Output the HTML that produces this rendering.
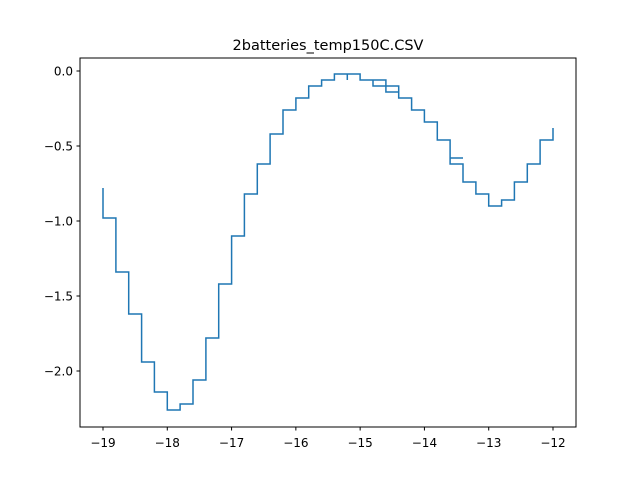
<!DOCTYPE html>
<html><head><meta charset="utf-8"><style>body{margin:0;background:#fff}svg{display:block;font-family:"DejaVu Sans","Liberation Sans",sans-serif}</style></head>
<body>
<svg id="c" width="640" height="480" xmlns="http://www.w3.org/2000/svg">
<rect width="640" height="480" fill="#fff"/>
<text x="328" y="50" text-anchor="middle" font-size="14.5">2batteries_temp150C.CSV</text>
<g id="plot"></g>
<rect x="80" y="58" width="496" height="369" fill="none" stroke="#000" stroke-width="1"/>
</svg>
<script>
const xs=[-19,-19,-18.8,-18.8,-18.6,-18.6,-18.4,-18.4,-18.2,-18.2,-18.0,-18.0,-17.8,-17.8,-17.6,-17.6,-17.4,-17.4,-17.2,-17.2,-17.0,-17.0,-16.8,-16.8,-16.6,-16.6,-16.4,-16.4,-16.2,-16.2,-16.0,-16.0,-15.8,-15.8,-15.6,-15.6,-15.4,-15.4,-15.2,-15.2,-15.2,-15.0,-15.0,-14.6,-14.6,-14.4,-14.4,-14.8,-14.8,-14.8,-14.4,-14.4,-14.2,-14.2,-14.0,-14.0,-13.8,-13.8,-13.6,-13.6,-13.4,-13.6,-13.6,-13.4,-13.4,-13.2,-13.2,-13.0,-13.0,-12.8,-12.8,-12.6,-12.6,-12.4,-12.4,-12.2,-12.2,-12.0,-12.0];
const ys=[-0.78,-0.98,-0.98,-1.34,-1.34,-1.62,-1.62,-1.94,-1.94,-2.14,-2.14,-2.26,-2.26,-2.22,-2.22,-2.06,-2.06,-1.78,-1.78,-1.42,-1.42,-1.10,-1.10,-0.82,-0.82,-0.62,-0.62,-0.42,-0.42,-0.26,-0.26,-0.18,-0.18,-0.10,-0.10,-0.06,-0.06,-0.02,-0.02,-0.06,-0.02,-0.02,-0.06,-0.06,-0.14,-0.14,-0.10,-0.10,-0.06,-0.10,-0.10,-0.18,-0.18,-0.26,-0.26,-0.34,-0.34,-0.46,-0.46,-0.58,-0.58,-0.58,-0.62,-0.62,-0.74,-0.74,-0.82,-0.82,-0.90,-0.90,-0.86,-0.86,-0.74,-0.74,-0.62,-0.62,-0.46,-0.46,-0.38];
const xTicks=[-19,-18,-17,-16,-15,-14,-13,-12];
const yTicks=[0,-0.5,-1,-1.5,-2];
const yLabels=["0.0","−0.5","−1.0","−1.5","−2.0"];
const sx=v=>103+(v+19)*450/7;
const sy=v=>71-v*150;
const g=document.getElementById('plot');
const NS='http://www.w3.org/2000/svg';
function mk(t,a){const e=document.createElementNS(NS,t);for(const k in a)e.setAttribute(k,a[k]);return e;}
xTicks.forEach(v=>{
 const l=mk('line',{x1:sx(v),x2:sx(v),y1:427,y2:430.5,stroke:'#000'});
 
 
 g.appendChild(l);
 const t=mk('text',{x:sx(v),y:447,'text-anchor':'middle','font-size':'12'});
 
 
 t.textContent=v<0?'−'+Math.abs(v):String(v);
 g.appendChild(t);
});
yTicks.forEach((v,i)=>{
 const l=mk('line',{x1:76.5,x2:80,y1:sy(v),y2:sy(v),stroke:'#000'});
 
 
 g.appendChild(l);
 const t=mk('text',{x:73,y:sy(v)+4.5,'text-anchor':'end','font-size':'12'});
 
 
 t.textContent=yLabels[i];
 g.appendChild(t);
});
const pts=xs.map((x,i)=>sx(x).toFixed(1)+','+sy(ys[i]).toFixed(1)).join(' ');
const pl=mk('polyline',{points:pts,fill:'none',stroke:'#1f77b4','stroke-width':'1.5','stroke-linejoin':'miter'});


g.appendChild(pl);
</script>
</body></html>
